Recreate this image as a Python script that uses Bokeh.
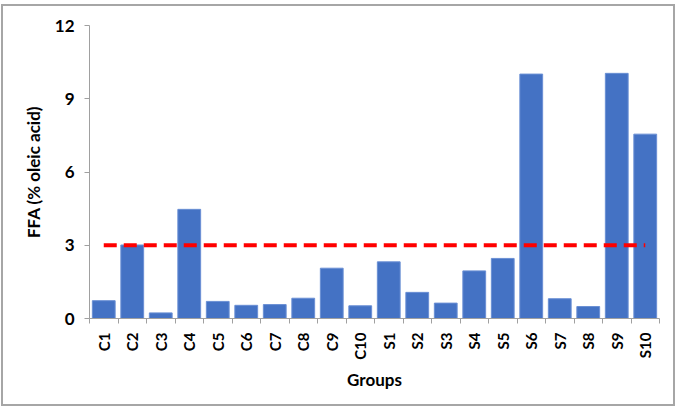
import math
from bokeh.plotting import figure
from bokeh.models import FixedTicker, Range1d
from bokeh.embed import file_html
from bokeh.resources import INLINE

groups = ["C1", "C2", "C3", "C4", "C5", "C6", "C7", "C8", "C9", "C10",
          "S1", "S2", "S3", "S4", "S5", "S6", "S7", "S8", "S9", "S10"]
ffa = [0.73, 3.01, 0.23, 4.47, 0.70, 0.54, 0.57, 0.83, 2.06, 0.52,
       2.32, 1.07, 0.63, 1.95, 2.46, 10.01, 0.81, 0.49, 10.04, 7.55]
limit = 3
y_ticks = [0, 3, 6, 9, 12]

FONT = "Lato"
n = len(groups)
xs = list(range(1, n + 1))

p = figure(width=674, height=402, output_backend="svg", toolbar_location=None,
           x_range=Range1d(0.5, n + 0.5), y_range=Range1d(0, 12),
           min_border_left=86, min_border_right=18, min_border_top=19, min_border_bottom=90)
p.styles = {"border": "2px solid #a6a6a6", "margin-left": "1px", "margin-top": "4px"}
p.outline_line_color = None
p.xgrid.visible = False
p.ygrid.visible = False

p.vbar(x=xs, top=ffa, width=0.8, fill_color="#4472C4", line_color="#6a8fd4", line_width=1)
p.line(x=[xs[0], xs[-1]], y=[limit, limit], line_color="#FF0000", line_width=4,
       line_dash="13 7")

AX = "#a0a0a0"
ya = p.yaxis[0]
ya.ticker = FixedTicker(ticks=y_ticks, minor_ticks=[])
ya.axis_line_color = AX
ya.major_tick_line_color = AX
ya.major_tick_out = 5
ya.major_tick_in = 0
ya.major_label_text_font = FONT
ya.major_label_text_font_style = "bold"
ya.major_label_text_font_size = "17px"
ya.major_label_text_color = "#000000"
ya.major_label_standoff = 10
ya.axis_label = "FFA (% oleic acid)"
ya.axis_label_text_font = FONT
ya.axis_label_text_font_style = "bold"
ya.axis_label_text_font_size = "17px"
ya.axis_label_text_color = "#000000"
ya.axis_label_standoff = 8

xa = p.xaxis[0]
xa.ticker = FixedTicker(ticks=xs, minor_ticks=[x + 0.5 for x in range(0, n + 1)])
xa.major_label_overrides = {x: g for x, g in zip(xs, groups)}
xa.major_label_orientation = math.pi / 2
xa.axis_line_color = AX
xa.major_tick_line_color = None
xa.minor_tick_line_color = AX
xa.minor_tick_out = 5
xa.minor_tick_in = 0
xa.major_label_text_font = FONT
xa.major_label_text_font_style = "bold"
xa.major_label_text_font_size = "15px"
xa.major_label_text_color = "#000000"
xa.major_label_standoff = 8
xa.axis_label = "Groups"
xa.axis_label_text_font = FONT
xa.axis_label_text_font_style = "bold"
xa.axis_label_text_font_size = "17px"
xa.axis_label_text_color = "#000000"
xa.axis_label_standoff = 6

open("out.html", "w").write(file_html(p, INLINE))
